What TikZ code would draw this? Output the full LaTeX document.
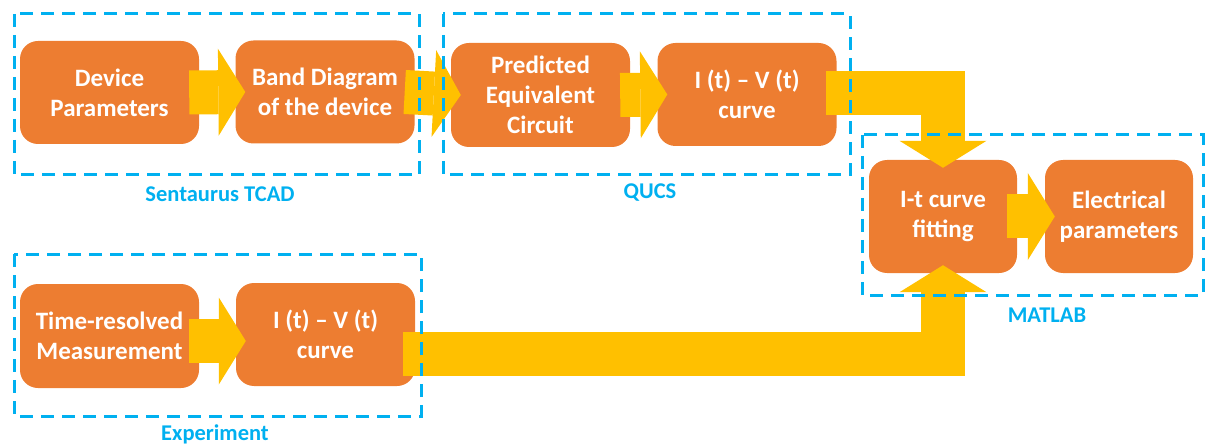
\documentclass[tikz,border=0pt]{standalone}
\usepackage{fontspec}
\setmainfont{Carlito}
\usetikzlibrary{arrows.meta}
\definecolor{boxorange}{HTML}{ED7D31}
\definecolor{arrowyellow}{HTML}{FFC000}
\definecolor{frameblue}{HTML}{00B0F0}
\begin{document}
\begin{tikzpicture}[x=1pt, y=-1pt,
    stage/.style={rectangle, rounded corners=18pt, fill=boxorange, text=white, align=center, inner sep=0pt,
      minimum width=179pt, minimum height=103pt, font=\fontsize{25}{30}\selectfont\bfseries},
    small stage/.style={stage, minimum width=148pt, minimum height=113pt},
    fat/.style={draw=arrowyellow, line width=44pt, -{Triangle[length=27pt, width=87pt, line width=0pt]}},
    tool/.style={draw=frameblue, line width=3pt, dash pattern=on 13pt off 8pt},
    toolname/.style={text=frameblue, font=\fontsize{22.5}{27}\selectfont\bfseries}]
      \useasboundingbox (0,0) rectangle (1206,446);
      \node (dev) at (109.5,92.5) [stage] {Device\\Parameters};
      \node (band) at (325,92) [stage] {Band Diagram\\of the device};
      \node (pred) at (540.5,95) [stage, minimum height=104pt] {Predicted\\Equivalent\\Circuit};
      \node (ivq) at (747,94.5) [stage] {I (t) -- V (t)\\curve};
      \node (fit) at (943,216.5) [small stage] {I-t curve\\fitting};
      \node (elec) at (1119,216.5) [small stage] {Electrical\\parameters};
      \node (meas) at (109.5,336) [stage, minimum height=104pt] {Time-resolved\\Measurement};
      \node (ive) at (325.5,334.5) [stage] {I (t) -- V (t)\\curve};
      % yellow block arrows
      \foreach \source/\dest in {dev/band, band/pred, pred/ivq, fit/elec}
        \draw[fat] ([xshift=-10pt]\source.east) -- ([xshift=10pt]\dest.west);
      \draw[fat] ([xshift=-10pt, yshift=-5pt]meas.east) -- ([xshift=10pt, yshift=-6.5pt]ive.west);
      \draw[fat] ([xshift=-11pt, yshift=1pt]ivq.east) -| ([yshift=-8pt]fit.north);
      \draw[fat] ([xshift=-12pt, yshift=-19pt]ive.east) -| ([yshift=8pt]fit.south);
      % tool frames
      \draw[tool] (14,14) rectangle (419,175);
      \draw[tool] (443,14) rectangle (850,175);
      \draw[tool] (862,135) rectangle (1203,295);
      \draw[tool] (14,254) rectangle (421,416);
      \node (tcad) at (220,194) [toolname] {Sentaurus TCAD};
      \node (qucs) at (650,193) [toolname] {QUCS};
      \node (matlab) at (1047,315) [toolname] {MATLAB};
      \node (expt) at (215,434) [toolname] {Experiment};
    \end{tikzpicture}
\end{document}
